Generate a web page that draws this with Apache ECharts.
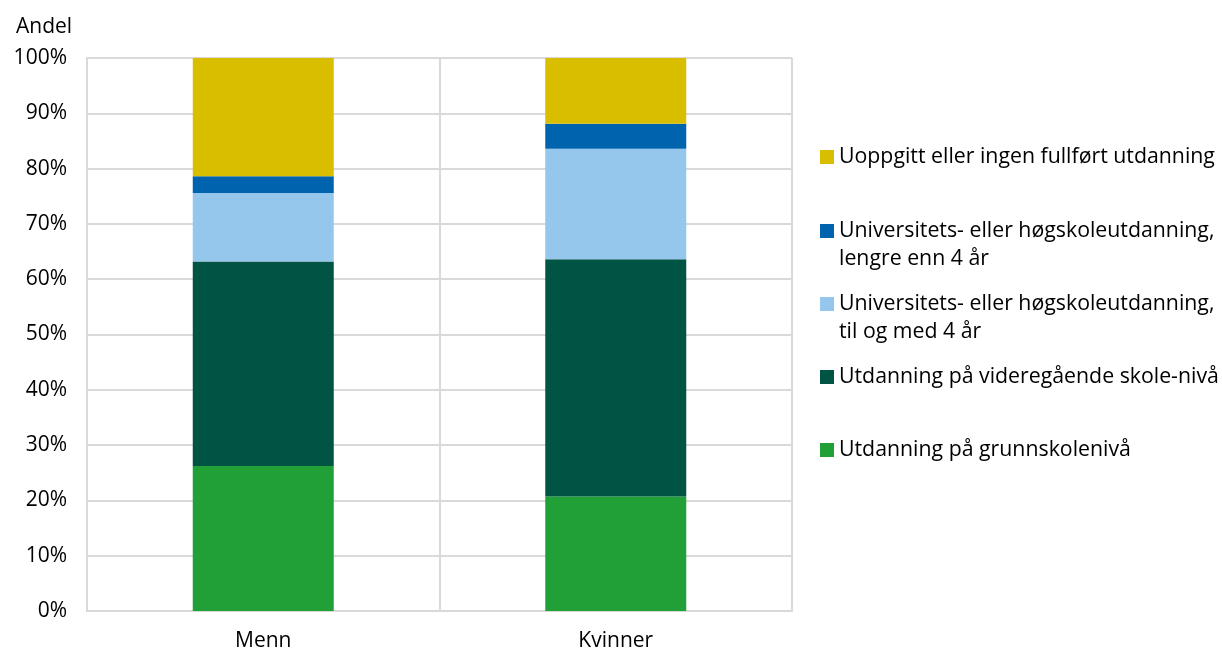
<!DOCTYPE html>
<html>
<head>
<meta charset="utf-8">
<script src="https://cdn.jsdelivr.net/npm/echarts@6/dist/echarts.min.js"></script>
<style>
  html, body { margin: 0; padding: 0; background: #fff; }
  #chart { width: 1222px; height: 652px; }
</style>
</head>
<body>
<div id="chart"></div>
<script>
// Utdanningsnivå etter kjønn, andel i prosent
const categories = ['Menn', 'Kvinner'];
const seriesNames = [
  'Utdanning på grunnskolenivå',
  'Utdanning på videregående skole-nivå',
  'Universitets- eller høgskoleutdanning,\ntil og med 4 år',
  'Universitets- eller høgskoleutdanning,\nlengre enn 4 år',
  'Uoppgitt eller ingen fullført utdanning'
];
const grunnskole = [26.2, 20.7];
const videregaende = [37.0, 42.9];
const hoyereKort = [12.4, 20.0];
const hoyereLang = [3.0, 4.5];
const uoppgitt = [21.4, 11.9];
const yTicks = [0, 10, 20, 30, 40, 50, 60, 70, 80, 90, 100];

const colors = ['#21A038', '#005444', '#95C6EB', '#0063AE', '#D9BE00'];
const values = [grunnskole, videregaende, hoyereKort, hoyereLang, uoppgitt];

const FONT = '"Open Sans", "Noto Sans", sans-serif';
const FS = 21;
const LEGEND_FS = 21.3;
const LH = 28;

// Legend entries listed top to bottom, one legend component each.
// Two-line names get an empty leading line so the swatch sits beside the first line.
const legendFirstLine = [157, 231, 304, 377, 450];
const legendOrder = [4, 3, 2, 1, 0];
const legends = legendOrder.map((si, i) => {
  const multi = seriesNames[si].indexOf('\n') >= 0;
  return {
    data: [seriesNames[si]],
    left: 820,
    top: legendFirstLine[i] - (multi ? LH * 1.5 : LH / 2),
    icon: 'rect',
    itemWidth: 14,
    itemHeight: 14,
    itemGap: 0,
    selectedMode: false,
    padding: 0,
    formatter: (name) => (name.indexOf('\n') >= 0 ? '\n' + name : name),
    textStyle: {
      fontFamily: FONT,
      fontSize: LEGEND_FS,
      color: '#000',
      lineHeight: LH
    }
  };
});

const chart = echarts.init(document.getElementById('chart'));
chart.setOption({
  animation: false,
  title: {
    text: 'Andel',
    left: 11,
    top: 12,
    textStyle: { fontFamily: FONT, fontSize: FS, fontWeight: 'normal', color: '#000' }
  },
  legend: legends,
  grid: { left: 87, right: 430, top: 58, bottom: 40, containLabel: false },
  xAxis: {
    type: 'category',
    data: categories,
    boundaryGap: true,
    axisLine: { show: true, lineStyle: { color: '#d9d9d9', width: 2 } },
    axisTick: { show: false },
    splitLine: { show: true, lineStyle: { color: '#d9d9d9', width: 2 } },
    axisLabel: { fontFamily: FONT, fontSize: FS, color: '#000', margin: 20 }
  },
  yAxis: {
    type: 'value',
    min: yTicks[0],
    max: yTicks[yTicks.length - 1],
    interval: 10,
    axisLine: { show: true, lineStyle: { color: '#d9d9d9', width: 2 } },
    axisTick: { show: false },
    splitLine: { show: true, lineStyle: { color: '#d9d9d9', width: 2 } },
    axisLabel: { fontFamily: FONT, fontSize: FS, color: '#000', margin: 20, formatter: '{value}%' }
  },
  series: seriesNames.map((name, i) => ({
    name: name,
    type: 'bar',
    stack: 'total',
    barWidth: '40%',
    data: values[i],
    itemStyle: { color: colors[i] }
  }))
});
</script>
</body>
</html>
